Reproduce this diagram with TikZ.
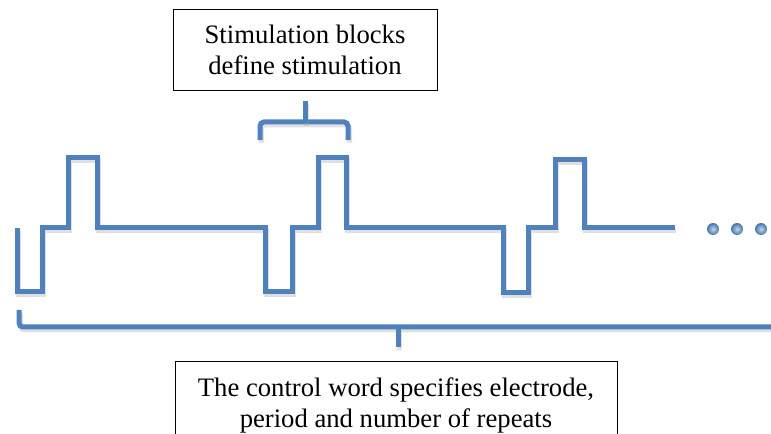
\documentclass[tikz,border=0pt]{standalone}
\usepackage{fontspec}
\setmainfont{Liberation Serif}
\usetikzlibrary{positioning}
\definecolor{waveblue}{RGB}{79,129,189}
\tikzset{
    wave/.style = {
        draw           = waveblue,
        line width     = 3.75pt,
        line join      = miter,
        preaction      = {draw = black!35, opacity = 0.35, line width = 4pt,
                          transform canvas = {shift = {(1pt, -2pt)}}},
    },
    brace/.style = {
        wave,
        rounded corners = 3pt,
    },
    textbox/.style = {
        draw,
        line width = 0.6pt,
        align      = center,
        font       = \fontsize{20}{23.3}\selectfont,
    },
    dot/.style = {
        circle,
        inner color  = waveblue!35!white,
        outer color  = waveblue!90!black,
        minimum size = 9pt,
        inner sep    = 0pt,
    },
}

\begin{document}
\begin{tikzpicture}[x = 0.75pt, y = -0.75pt]
        \useasboundingbox (0, 0) rectangle (771, 434);
        \clip (0, 0) rectangle (771, 434);

        % the pulse train
        \draw [wave] (17, 228) -- (17, 292) -- (42, 292) -- (42, 228) -- (68, 228) -- (68, 158) -- (97, 158) -- (97, 228)
                     -- (265, 228) -- (265, 292) -- (292, 292) -- (292, 228) -- (318, 228) -- (318, 158) -- (346, 158) -- (346, 228)
                     -- (503, 228) -- (503, 293) -- (528, 293) -- (528, 228) -- (555, 228) -- (555, 160) -- (584, 160) -- (584, 228)
                     -- (675, 228);

        \foreach \x [count = \i] in {713, 737, 761}
            \node (dot\i) [dot] at (\x, 229) {};

        % one stimulation block
        \draw [brace] (260, 140) -- (260, 122) -- (348, 122) -- (348, 140);
        \draw [wave] (305, 123) -- (305, 101);
        \node (stimbox) [textbox, minimum width = 198pt, minimum height = 60.75pt] at (305, 49.5)
            {Stimulation blocks\\define stimulation};

        % the whole control word
        \draw [brace] (19, 310) -- (19, 327) -- (800, 327);
        \draw [wave] (398, 328) -- (398, 347);
        \node (controlbox) [textbox, anchor = north, minimum width = 331.5pt, inner ysep = 12.5pt] at (396, 361)
            {The control word specifies electrode,\\period and number of repeats};
    \end{tikzpicture}
\end{document}
